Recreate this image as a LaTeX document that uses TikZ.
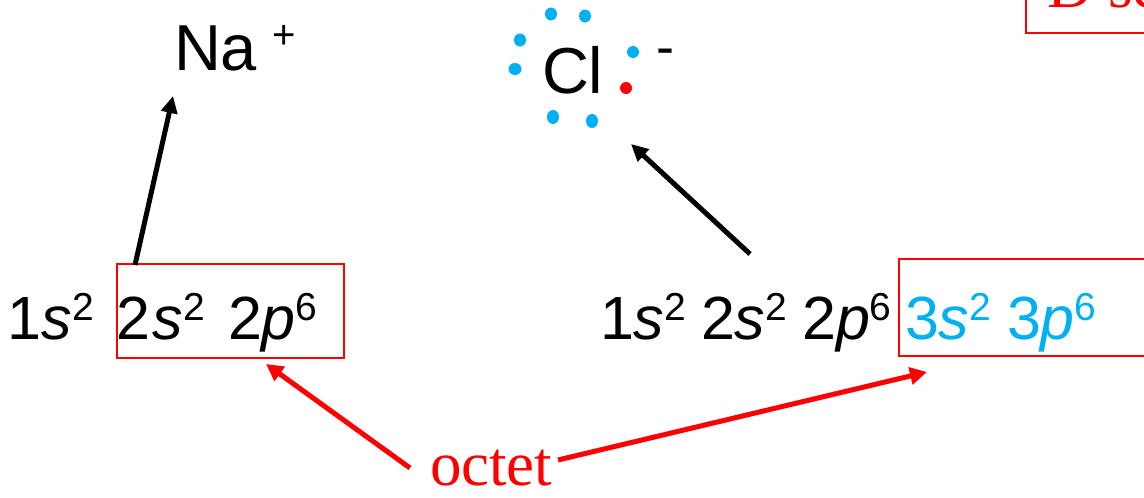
\documentclass[tikz,border=0pt]{standalone}
\usepackage{fontspec}
\setmainfont{Liberation Sans}
\newfontfamily\timesf{Liberation Serif}
\usetikzlibrary{arrows.meta,calc}
\definecolor{pblue}{RGB}{0,176,240}
\definecolor{pred}{RGB}{255,0,0}
\newcommand{\sups}[1]{\raisebox{19pt}{\fontsize{39}{40}\selectfont #1}}
\begin{document}
\begin{tikzpicture}[x=1pt,y=-1pt,
  txt/.style={inner sep=0pt, outer sep=0pt, anchor=base west, font=\fontsize{61}{70}\selectfont},
  bigtxt/.style={txt, font=\fontsize{65}{70}\selectfont},
  serif/.style={inner sep=0pt, outer sep=0pt, anchor=base west, text=pred, font=\timesf\fontsize{63}{68}\selectfont},
  redbox/.style={draw=pred, line width=1.5pt, inner sep=0pt, outer sep=0pt},
  blkarrow/.style={draw=black, line width=5pt, -{Triangle[length=17pt,width=16pt]}},
  redarrow/.style={draw=pred, line width=5pt, -{Triangle[length=17pt,width=17pt]}},
  bdot/.style={fill=pblue},
  rdot/.style={fill=pred}]
\useasboundingbox (0,0) rectangle (1144,498);

% top-right cropped box
\node[redbox, anchor=south west, minimum width=200pt, minimum height=100pt] (tbox) at (1026,33) {};
\node[serif] (ttxt) at (1047,7) {D sc};

% Na+
\node[bigtxt] (na) at (174,70) {Na};
\node[inner sep=0pt, font=\fontsize{40}{40}\selectfont] (plus) at (284,37) {+};

% Cl-
\node[bigtxt] (cl) at (542,93) {Cl};
\node[inner sep=0pt, font=\fontsize{54}{54}\selectfont] (minus) at (665,57) {-};
\fill[bdot] (551,14) ellipse [x radius=6, y radius=6.5];
\fill[bdot] (585,16) ellipse [x radius=6, y radius=6.5];
\fill[bdot] (520,40) ellipse [x radius=6, y radius=6.5];
\fill[bdot] (515,69) ellipse [x radius=6.5, y radius=6];
\fill[bdot] (633,52) ellipse [x radius=6, y radius=6];
\fill[bdot] (553,117) ellipse [x radius=6, y radius=7];
\fill[bdot] (592,121) ellipse [x radius=6, y radius=7];
\fill[rdot] (626,88) ellipse [x radius=6, y radius=6];

% left configuration
\node[txt] (l1) at (8,339) {1\textit{s}\sups{2}};
\node[redbox, anchor=north west, minimum width=227pt, minimum height=94pt] (lbox) at (117,264) {};
\node[txt] (l2) at (116,339) {2\hspace{3pt}\textit{s}\sups{2}\hspace{6pt} 2\textit{p}\sups{6}};

% right configuration
\node[txt] (r1) at (600,339) {1\textit{s}\sups{2}\hspace{-2pt} 2\textit{s}\sups{2}\hspace{-2pt} 2\textit{p}\sups{6}};
\node[redbox, anchor=north west, minimum width=300pt, minimum height=97pt] (rbox) at (899,259) {};
\node[txt, text=pblue] (r2) at (905,339) {3\textit{s}\sups{2}\hspace{-1pt} 3\textit{p}\sups{6}};

% octet
\node[serif] (octet) at (430,485) {octet};

% arrows
\draw[blkarrow] ($(lbox.north west)+(18,1)$) -- ($(na.base west)+(-1,26)$);
\draw[blkarrow] ($(r1.base west)+(150,-85)$) -- ($(cl.base west)+(89,51)$);
\draw[redarrow] ($(octet.base west)+(-20,-17)$) -- ($(lbox.south west)+(149,6)$);
\draw[redarrow] ($(octet.base west)+(128,-25)$) -- ($(rbox.south west)+(28,16)$);
\end{tikzpicture}
\end{document}
